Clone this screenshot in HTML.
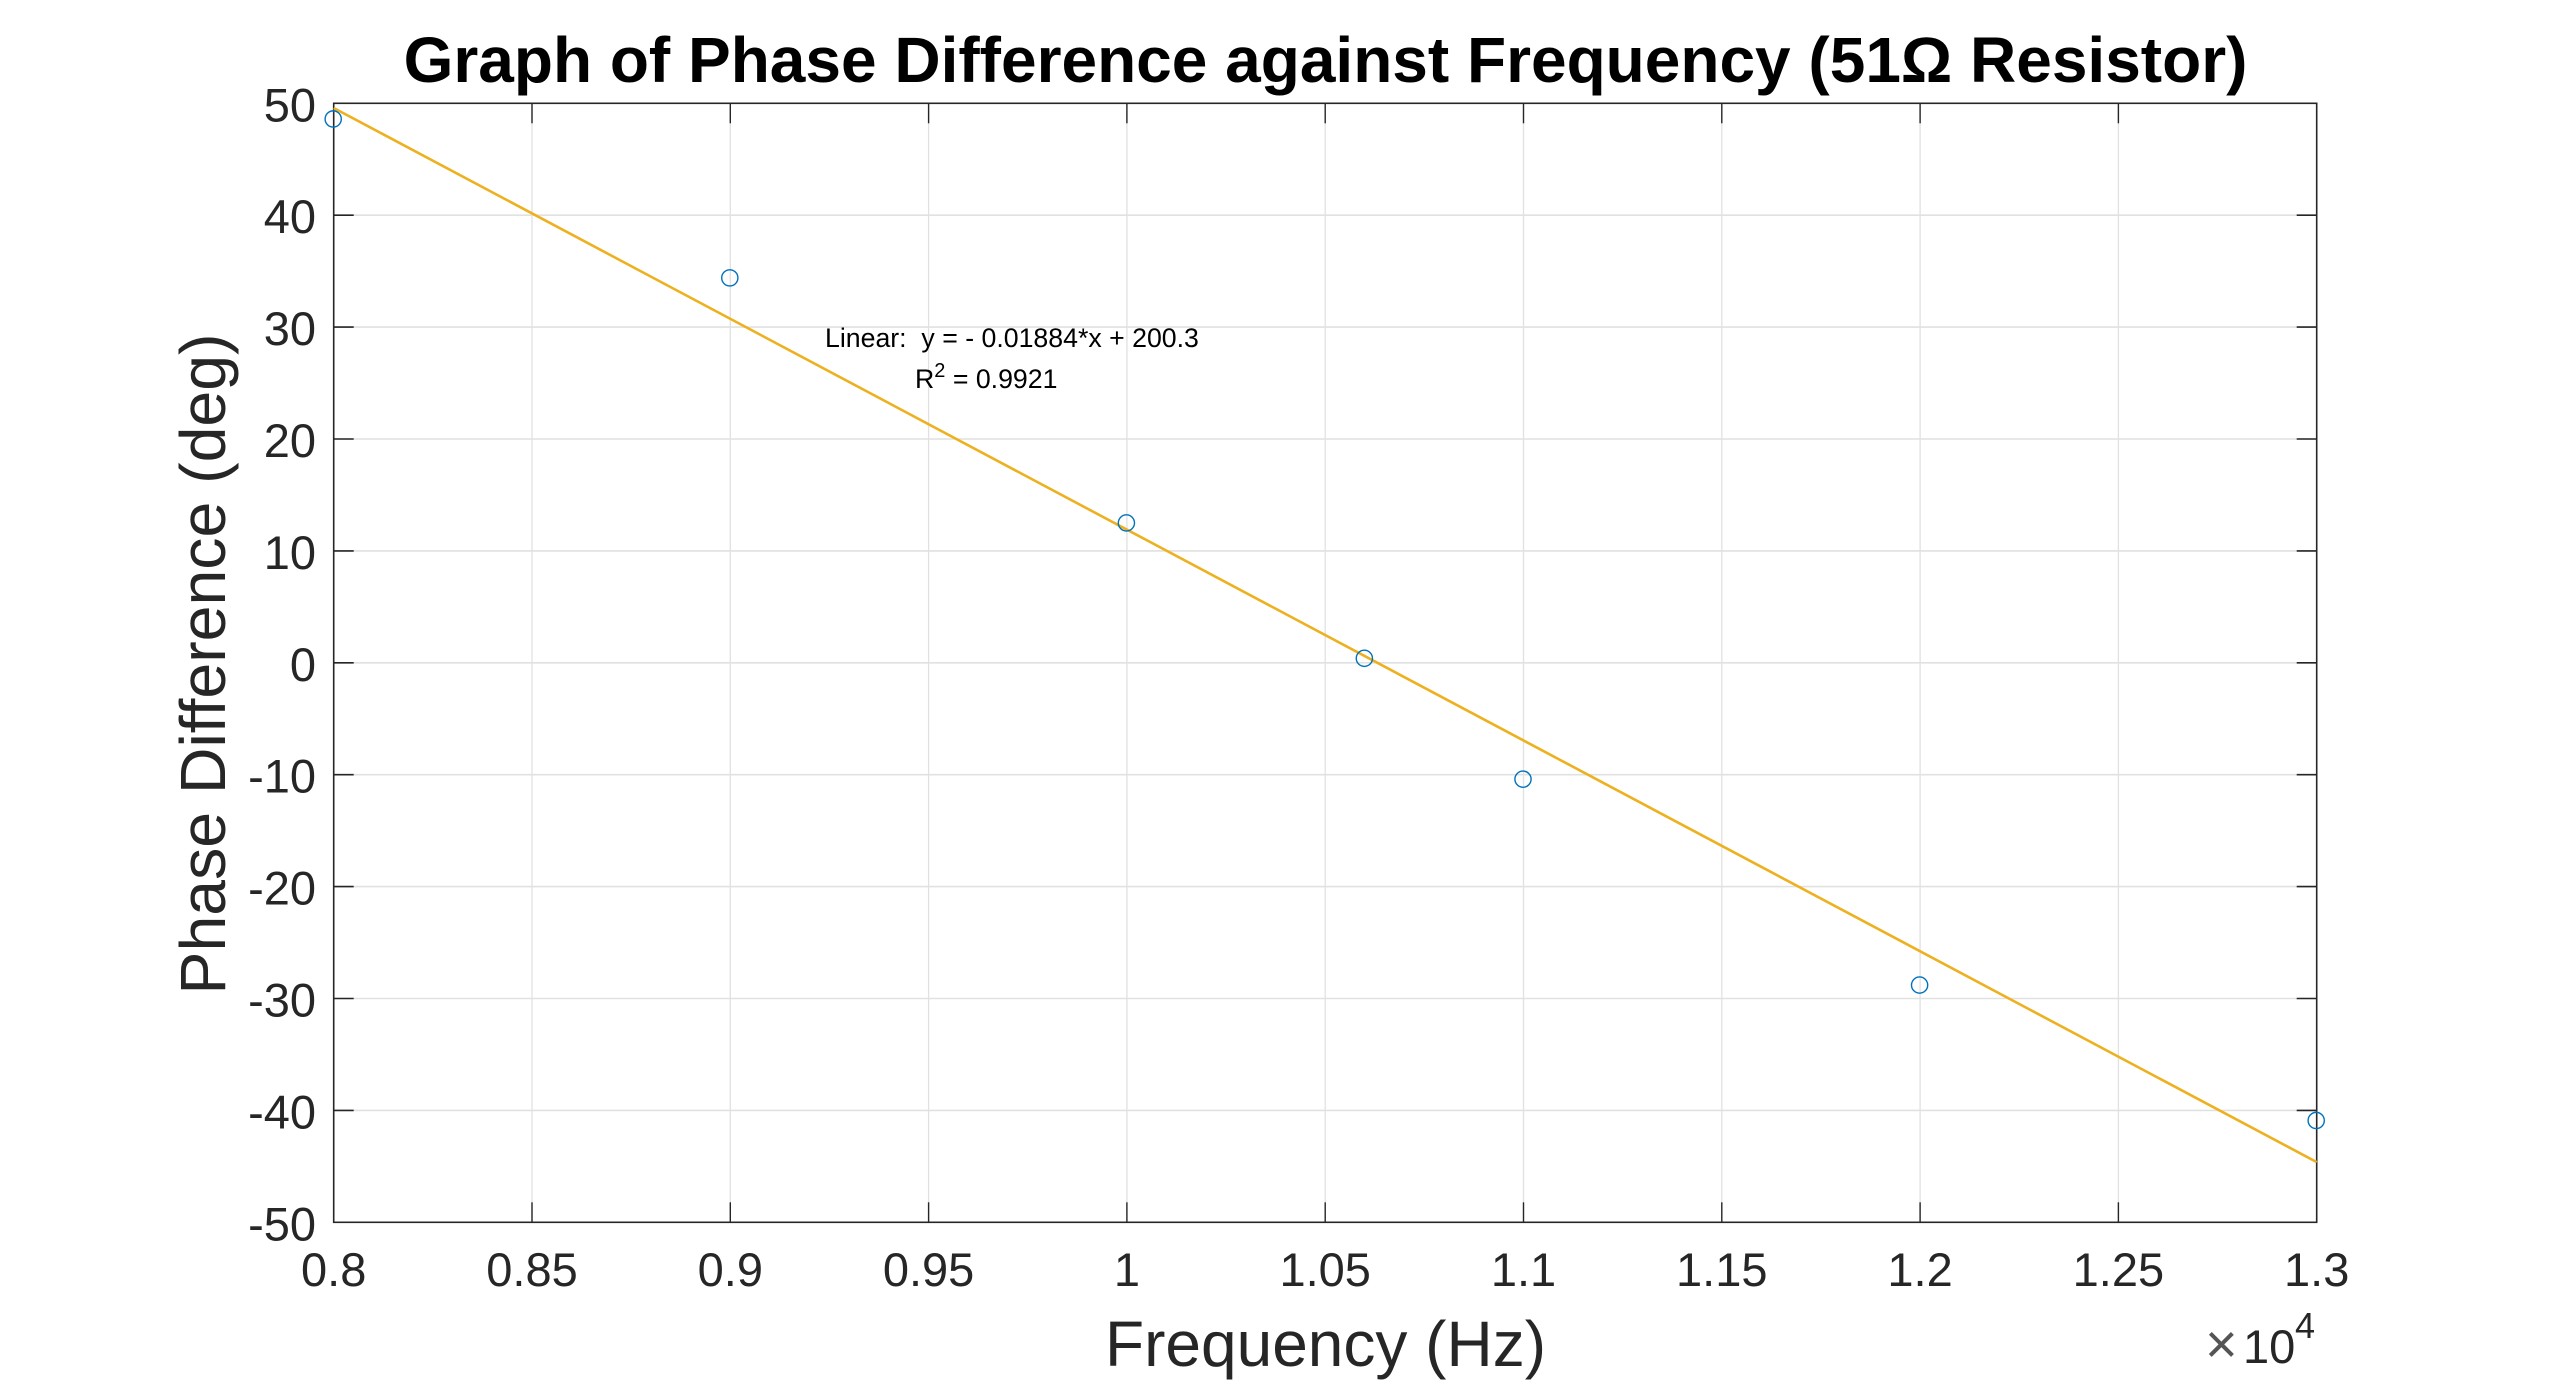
<!DOCTYPE html>
<html lang="en">
<head>
<meta charset="utf-8">
<title>Graph of Phase Difference against Frequency</title>
<style>
html,body{margin:0;padding:0;background:#fff;width:2560px;height:1380px;overflow:hidden}
svg{display:block}
text{font-family:"Liberation Sans",Arial,sans-serif;fill:#262626}
</style>
</head>
<body>
<svg id="chart" xmlns="http://www.w3.org/2000/svg" width="2560" height="1380" viewBox="0 0 2560 1380">
  <rect x="0" y="0" width="2560" height="1380" fill="#ffffff"/>
  <g id="grid"></g>
  <g id="series"></g>
  <g id="axes"></g>
  <text x="1325.5" y="82" text-anchor="middle" font-size="64" font-weight="700" style="fill:#000">Graph of Phase Difference against Frequency (51Ω Resistor)</text>
  <text x="1325.5" y="1366" text-anchor="middle" font-size="64">Frequency (Hz)</text>
  <text transform="translate(225 664) rotate(-90)" text-anchor="middle" font-size="64.4">Phase Difference (deg)</text>
  <g>
    <text x="2205" y="1363" font-size="56" style="fill:#555">×</text>
    <text x="2243" y="1363" font-size="47">10</text>
    <text x="2295" y="1338" font-size="36">4</text>
  </g>
  <g>
    <text x="825" y="347" font-size="26.7" style="fill:#000">Linear:&#160; y = - 0.01884*x + 200.3</text>
    <text x="915" y="388" font-size="26.7" style="fill:#000">R<tspan font-size="20" dy="-11">2</tspan><tspan dy="11"> = 0.9921</tspan></text>
  </g>
</svg>
<script>
const xTicks = [8000, 8500, 9000, 9500, 10000, 10500, 11000, 11500, 12000, 12500, 13000];
const xTickLabels = ['0.8', '0.85', '0.9', '0.95', '1', '1.05', '1.1', '1.15', '1.2', '1.25', '1.3'];
const yTicks = [50, 40, 30, 20, 10, 0, -10, -20, -30, -40, -50];
const yTickLabels = ['50', '40', '30', '20', '10', '0', '-10', '-20', '-30', '-40', '-50'];
const frequencies = [8000, 9000, 10000, 10600, 11000, 12000, 13000];
const phaseDiffs = [48.6, 34.4, 12.5, 0.4, -10.4, -28.8, -40.9];
const fitSlope = [-0.01884];
const fitIntercept = [200.3];

const NS = 'http://www.w3.org/2000/svg';
const plotLeft = 333.7, plotRight = 2316.7, plotTop = 103.3, plotBottom = 1222.3;
const xMin = xTicks[0], xMax = xTicks[xTicks.length - 1];
const yMax = yTicks[0], yMin = yTicks[yTicks.length - 1];
function xScale(v) { return plotLeft + (v - xMin) / (xMax - xMin) * (plotRight - plotLeft); }
function yScale(v) { return plotTop + (yMax - v) / (yMax - yMin) * (plotBottom - plotTop); }
function make(tag, attrs, parent) {
  const el = document.createElementNS(NS, tag);
  for (const k in attrs) el.setAttribute(k, attrs[k]);
  parent.appendChild(el);
  return el;
}
const gridG = document.getElementById('grid');
const seriesG = document.getElementById('series');
const axesG = document.getElementById('axes');
const GRID = '#e1e1e1', AXIS = '#262626';

xTicks.forEach(function (t, i) {
  const x = xScale(t);
  if (i > 0 && i < xTicks.length - 1) {
    const g = make('line', {x1: x, x2: x, y1: plotTop, y2: plotBottom, stroke: GRID, 'stroke-width': 1.3}, gridG);
    
    
    const a = make('line', {x1: x, x2: x, y1: plotBottom, y2: plotBottom - 20, stroke: AXIS, 'stroke-width': 1.4}, axesG);
    
    
    const b = make('line', {x1: x, x2: x, y1: plotTop, y2: plotTop + 20, stroke: AXIS, 'stroke-width': 1.4}, axesG);
    
    
  }
  const l = make('text', {x: x, y: 1286, 'text-anchor': 'middle', 'font-size': 47}, axesG);
  l.textContent = xTickLabels[i];
  
  
});

yTicks.forEach(function (t, i) {
  const y = yScale(t);
  if (i > 0 && i < yTicks.length - 1) {
    const g = make('line', {x1: plotLeft, x2: plotRight, y1: y, y2: y, stroke: GRID, 'stroke-width': 1.6}, gridG);
    
    
    const a = make('line', {x1: plotLeft, x2: plotLeft + 20, y1: y, y2: y, stroke: AXIS, 'stroke-width': 1.6}, axesG);
    
    
    const b = make('line', {x1: plotRight, x2: plotRight - 20, y1: y, y2: y, stroke: AXIS, 'stroke-width': 1.6}, axesG);
    
    
  }
  const l = make('text', {x: 316, y: y + 18, 'text-anchor': 'end', 'font-size': 47}, axesG);
  l.textContent = yTickLabels[i];
  
  
});

const frame = make('rect', {x: plotLeft, y: plotTop, width: plotRight - plotLeft, height: plotBottom - plotTop, fill: 'none', stroke: AXIS, 'stroke-width': 1.6}, axesG);



const fit = make('line', {
  x1: xScale(xMin), y1: yScale(fitSlope[0] * xMin + fitIntercept[0]),
  x2: xScale(xMax), y2: yScale(fitSlope[0] * xMax + fitIntercept[0]),
  stroke: '#EDB120', 'stroke-width': 2.6
}, seriesG);



frequencies.forEach(function (f, i) {
  const c = make('circle', {cx: xScale(f) - 0.5, cy: yScale(phaseDiffs[i]), r: 8.1, fill: 'none', stroke: '#0072BD', 'stroke-width': 1.4}, seriesG);
  
  
});
// Keep series above the axes frame, as in the reference.
document.getElementById('chart').appendChild(seriesG);
</script>
</body>
</html>
